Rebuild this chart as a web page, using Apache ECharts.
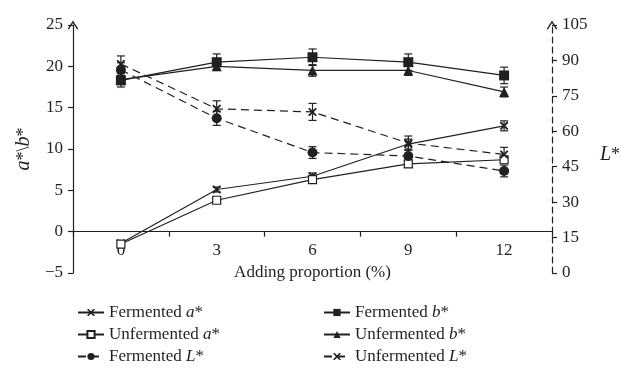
<!DOCTYPE html>
<html>
<head>
<meta charset="utf-8">
<script src="https://cdn.jsdelivr.net/npm/echarts@6/dist/echarts.min.js"></script>
<style>
  html, body { margin: 0; padding: 0; background: #ffffff; }
  #chart { width: 621px; height: 389px; }
</style>
</head>
<body>
<div id="chart"></div>
<script>
// Adding proportion of the ingredient (%)
const categories = ['0', '3', '6', '9', '12'];

// a* and b* colour values (left axis)
const fermentedA   = [-1.4, 5.1, 6.7, 10.6, 12.8];
const unfermentedA = [-1.5, 3.8, 6.3, 8.2, 8.7];
const fermentedB   = [18.3, 20.5, 21.1, 20.5, 18.9];
const unfermentedB = [18.4, 20.0, 19.5, 19.5, 16.9];

// L* lightness values (right axis)
const fermentedL   = [86.0, 65.5, 51.0, 49.5, 43.2];
const unfermentedL = [88.5, 69.5, 68.2, 55.0, 50.2];

// standard deviations
const fermentedAErr   = [0.3, 0.3, 0.4, 0.6, 0.6];
const unfermentedAErr = [0.3, 0.3, 0.4, 0.4, 0.4];
const fermentedBErr   = [0.8, 1.0, 1.0, 1.0, 1.0];
const unfermentedBErr = [0.5, 0.4, 0.7, 0.6, 0.6];
const fermentedLErr   = [3.0, 3.0, 2.5, 2.5, 2.5];
const unfermentedLErr = [3.4, 3.4, 3.6, 3.0, 3.0];

// axis ticks
const leftTicks  = { min: -5, max: 25, interval: 5 };
const rightTicks = { min: 0, max: 105, interval: 15 };

const FONT = 'Liberation Serif';
const INK = '#231f20';
const crossPath = 'path://M0,0 L1.6,0 L5,3.4 L8.4,0 L10,0 L10,1.6 L6.6,5 L10,8.4 L10,10 L8.4,10 L5,6.6 L1.6,10 L0,10 L0,8.4 L3.4,5 L0,1.6 Z';
const chevron = 'path://M0,8 L5,0 L10,8 L8.9,8.6 L5,2.4 L1.1,8.6 Z';

function lineSeries(name, data, axis, symbol, size, dashed, fill) {
  return {
    name: name,
    type: 'line',
    yAxisIndex: axis,
    data: data,
    symbol: symbol,
    symbolSize: size,
    showSymbol: true,
    z: 3,
    lineStyle: { color: INK, width: 1.2, type: dashed ? [8, 5] : 'solid' },
    itemStyle: { color: fill || INK, borderColor: INK, borderWidth: fill ? 1.2 : 0 },
    emphasis: { disabled: true },
    animation: false
  };
}

function errorSeries(values, errs, axis) {
  return {
    type: 'custom',
    yAxisIndex: axis,
    z: 2,
    silent: true,
    animation: false,
    data: values.map((v, i) => [i, v, errs[i]]),
    renderItem: function (params, api) {
      const x = api.value(0), v = api.value(1), e = api.value(2);
      const hi = api.coord([x, v + e]);
      const lo = api.coord([x, v - e]);
      const w = 4;
      const st = { stroke: INK, lineWidth: 1.2 };
      return {
        type: 'group',
        children: [
          { type: 'line', shape: { x1: hi[0], y1: hi[1], x2: lo[0], y2: lo[1] }, style: st },
          { type: 'line', shape: { x1: hi[0] - w, y1: hi[1], x2: hi[0] + w, y2: hi[1] }, style: st },
          { type: 'line', shape: { x1: lo[0] - w, y1: lo[1], x2: lo[0] + w, y2: lo[1] }, style: st }
        ]
      };
    }
  };
}

const legendText = {
  fontFamily: FONT, fontSize: 17, color: INK,
  rich: { i: { fontFamily: FONT, fontSize: 17, fontStyle: 'italic', color: INK } }
};
const legendFormatter = name => name.replace(/(\w)\*$/, '{i|$1}*');
const minusFormatter = v => String(v).replace('-', '\u2212');

const chart = echarts.init(document.getElementById('chart'));
chart.setOption({
  backgroundColor: '#ffffff',
  animation: false,
  grid: { left: 73, right: 69, top: 25, bottom: 116, containLabel: false, outerBoundsMode: 'none' },
  xAxis: {
    type: 'category',
    data: categories,
    boundaryGap: true,
    name: 'Adding proportion (%)',
    nameLocation: 'middle',
    nameGap: -10,
    nameTextStyle: { fontFamily: FONT, fontSize: 17, color: INK },
    axisLine: { onZero: true, onZeroAxisIndex: 0, lineStyle: { color: INK, width: 1.2 } },
    axisTick: { show: true, interval: 0, alignWithLabel: false, length: 5, lineStyle: { color: INK, width: 1.2 } },
    axisLabel: { fontFamily: FONT, fontSize: 17, color: INK, margin: -31 },
    splitLine: { show: false }
  },
  yAxis: [
    {
      type: 'value',
      min: leftTicks.min, max: leftTicks.max, interval: leftTicks.interval,
      name: '{i|a}*\\{i|b}*',
      nameLocation: 'middle',
      nameGap: 38,
      nameRotate: 90,
      nameTextStyle: {
        fontFamily: FONT, fontSize: 18, color: INK,
        rich: { i: { fontFamily: FONT, fontSize: 20, fontStyle: 'italic', color: INK } }
      },
      axisLine: { show: true, symbol: ['none', chevron], symbolSize: [11, 9], lineStyle: { color: INK, width: 1.2 } },
      axisTick: { show: true, length: 5, lineStyle: { color: INK, width: 1.2 } },
      axisLabel: { fontFamily: FONT, fontSize: 17, color: INK, margin: 10, formatter: minusFormatter },
      splitLine: { show: false }
    },
    {
      type: 'value',
      position: 'right',
      min: rightTicks.min, max: rightTicks.max, interval: rightTicks.interval,
      name: '{i|L}*',
      nameLocation: 'middle',
      nameGap: 48,
      nameRotate: 0,
      nameTextStyle: {
        fontFamily: FONT, fontSize: 18, color: INK,
        padding: [12, 0, 0, 0],
        rich: { i: { fontFamily: FONT, fontSize: 20, fontStyle: 'italic', color: INK } }
      },
      axisLine: { show: true, symbol: ['none', chevron], symbolSize: [11, 9], lineStyle: { color: INK, width: 1.2, type: [6, 4] } },
      axisTick: { show: true, length: 5, lineStyle: { color: INK, width: 1.2 } },
      axisLabel: { fontFamily: FONT, fontSize: 17, color: INK, margin: 10 },
      splitLine: { show: false }
    }
  ],
  legend: [
    {
      orient: 'vertical', left: 72, top: 299, itemGap: 5, itemWidth: 26, itemHeight: 9,
      textStyle: legendText, formatter: legendFormatter, selectedMode: false,
      data: ['Fermented a*', 'Unfermented a*', 'Fermented L*']
    },
    {
      orient: 'vertical', left: 318, top: 299, itemGap: 5, itemWidth: 26, itemHeight: 9,
      textStyle: legendText, formatter: legendFormatter, selectedMode: false,
      data: ['Fermented b*', 'Unfermented b*', 'Unfermented L*']
    }
  ],
  series: [
    errorSeries(fermentedA, fermentedAErr, 0),
    errorSeries(unfermentedA, unfermentedAErr, 0),
    errorSeries(fermentedB, fermentedBErr, 0),
    errorSeries(unfermentedB, unfermentedBErr, 0),
    errorSeries(fermentedL, fermentedLErr, 1),
    errorSeries(unfermentedL, unfermentedLErr, 1),
    lineSeries('Fermented a*', fermentedA, 0, crossPath, 8, false),
    lineSeries('Unfermented a*', unfermentedA, 0, 'rect', 8, false, '#ffffff'),
    lineSeries('Fermented b*', fermentedB, 0, 'rect', 10, false),
    lineSeries('Unfermented b*', unfermentedB, 0, 'triangle', 10, false),
    lineSeries('Fermented L*', fermentedL, 1, 'circle', 10, true),
    lineSeries('Unfermented L*', unfermentedL, 1, crossPath, 8, true)
  ]
});
</script>
</body>
</html>
